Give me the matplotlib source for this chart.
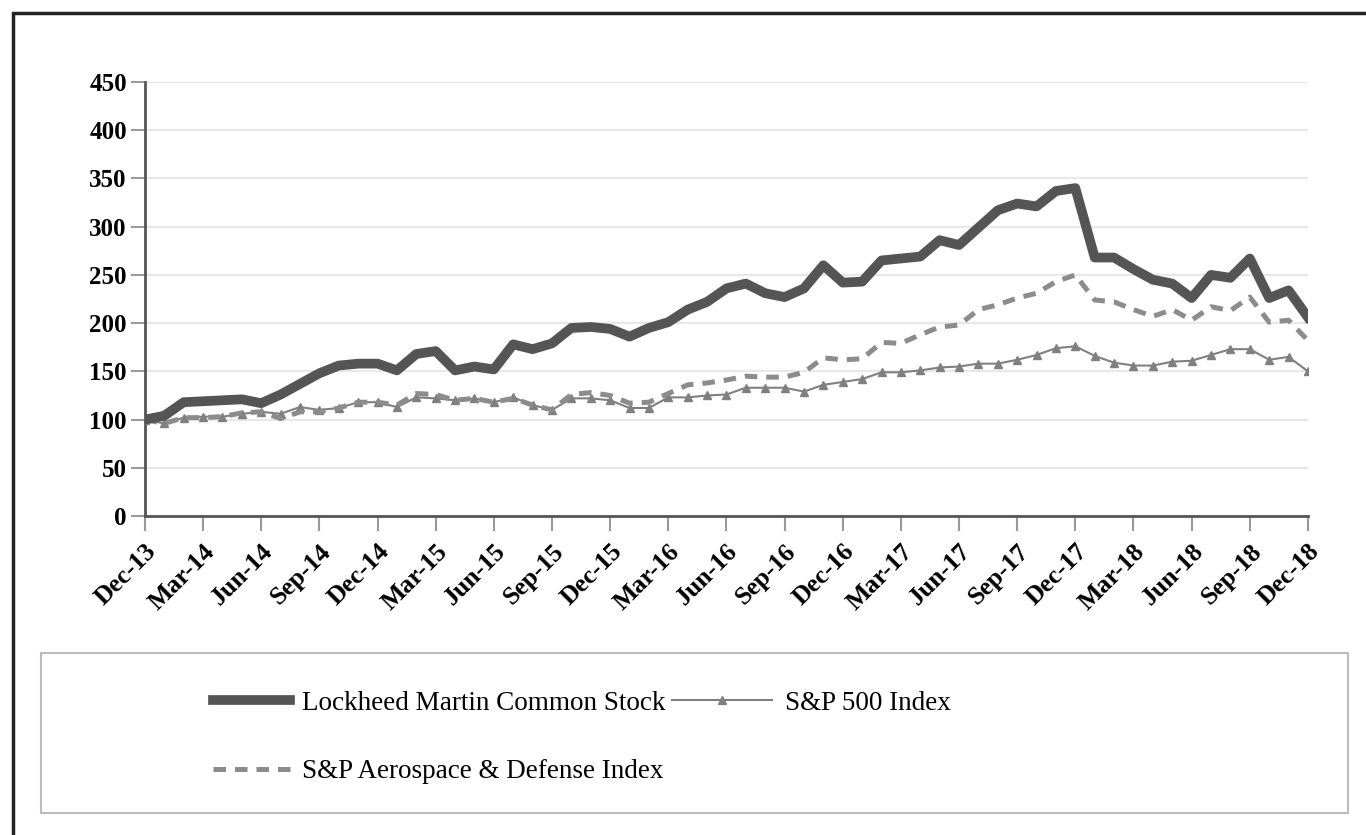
import matplotlib
matplotlib.use('Agg')
import matplotlib.pyplot as plt
from matplotlib.patches import Rectangle
import numpy as np

# Monthly cumulative return values, Dec-13 .. Dec-18 (61 months)
lockheed = [100, 104, 118, 119, 120, 121, 117, 126, 137, 148, 156, 158, 158,
            151, 168, 171, 151, 155, 152, 178, 173, 179, 195, 196, 194,
            186, 195, 201, 214, 222, 236, 241, 231, 227, 236, 260, 242,
            243, 265, 267, 269, 286, 281, 299, 317, 324, 321, 337, 340,
            268, 268, 256, 245, 241, 226, 250, 247, 267, 226, 234, 206]
sp500 = [100, 96, 102, 103, 103, 106, 108, 106, 113, 110, 112, 118, 118,
         113, 123, 122, 120, 122, 118, 123, 115, 110, 122, 122, 120,
         112, 112, 123, 123, 125, 126, 133, 133, 133, 129, 136, 139,
         142, 149, 149, 151, 154, 155, 158, 158, 162, 167, 174, 176,
         166, 159, 156, 156, 160, 161, 167, 173, 173, 162, 165, 150]
aero_defense = [100, 96, 102, 102, 103, 107, 108, 101, 108, 108, 112, 118, 118,
                115, 127, 126, 120, 122, 118, 122, 115, 110, 126, 128, 125,
                117, 118, 127, 136, 138, 141, 145, 144, 144, 149, 164, 162,
                163, 180, 179, 188, 196, 198, 214, 219, 226, 231, 243, 250,
                224, 222, 214, 207, 214, 203, 217, 213, 227, 201, 203, 182]
tick_labels = ['Dec-13', 'Mar-14', 'Jun-14', 'Sep-14', 'Dec-14', 'Mar-15', 'Jun-15',
               'Sep-15', 'Dec-15', 'Mar-16', 'Jun-16', 'Sep-16', 'Dec-16', 'Mar-17',
               'Jun-17', 'Sep-17', 'Dec-17', 'Mar-18', 'Jun-18', 'Sep-18', 'Dec-18']

plt.rcParams['font.family'] = ['Liberation Serif', 'DejaVu Serif']

fig = plt.figure(figsize=(13.66, 8.35), dpi=100)
ax = fig.add_axes([0.1061, 0.382, 0.8514, 0.5198])

months = np.arange(len(lockheed))

l_sp, = ax.plot(months, sp500, color='#808080', lw=1.5, marker='^',
                markersize=6, label='S&P 500 Index', zorder=3)
l_ad, = ax.plot(months, aero_defense, color='#8c8c8c', lw=3.6,
                linestyle=(0, (2.5, 1.8)), label='S&P Aerospace & Defense Index', zorder=4)
l_lm, = ax.plot(months, lockheed, color='#555555', lw=7,
                label='Lockheed Martin Common Stock', zorder=5)

ax.set_xlim(0, 60)
ax.set_ylim(0, 450)
ax.set_yticks(np.arange(0, 451, 50))
ax.set_xticks(np.arange(0, 61, 3))
ax.set_xticklabels(tick_labels, rotation=45, ha='right', rotation_mode='anchor',
                   fontsize=18.5, fontweight='bold')
for t in ax.get_yticklabels():
    t.set_fontsize(18)
    t.set_fontweight('bold')

ax.grid(axis='y', color='#e8e8e8', lw=1.6)
ax.set_axisbelow(True)
for s in ['top', 'right']:
    ax.spines[s].set_visible(False)
for s in ['left', 'bottom']:
    ax.spines[s].set_color('#555555')
    ax.spines[s].set_linewidth(2)
ax.tick_params(axis='y', length=10, width=1.5, color='#999999', pad=3)
ax.tick_params(axis='x', length=11, width=1.5, color='#999999', pad=6)

# outer frame and legend box
fig.patches.append(Rectangle((13 / 1366, -0.2), 1.2, 1.2 - 13 / 835, transform=fig.transFigure,
                             fill=False, edgecolor='#222222', lw=2.5))
fig.patches.append(Rectangle((41 / 1366, 22 / 835), (1348 - 41) / 1366, (813 - 653) / 835,
                             transform=fig.transFigure, fill=False, edgecolor='#bbbbbb', lw=1.5))

leg1 = fig.legend([l_lm, l_ad], ['Lockheed Martin Common Stock', 'S&P Aerospace & Defense Index'],
                  loc='upper left', bbox_to_anchor=(213 / 1366, 0.1725), frameon=False,
                  fontsize=19.5, handlelength=2.85, handletextpad=0.45, labelspacing=1.6,
                  borderpad=0, borderaxespad=0)
fig.legend([l_sp], ['S&P 500 Index'],
           loc='upper left', bbox_to_anchor=(672 / 1366, 0.1725), frameon=False,
           fontsize=19.5, handlelength=3.7, handletextpad=0.48,
           borderpad=0, borderaxespad=0)

plt.savefig('out.png', dpi=100)
